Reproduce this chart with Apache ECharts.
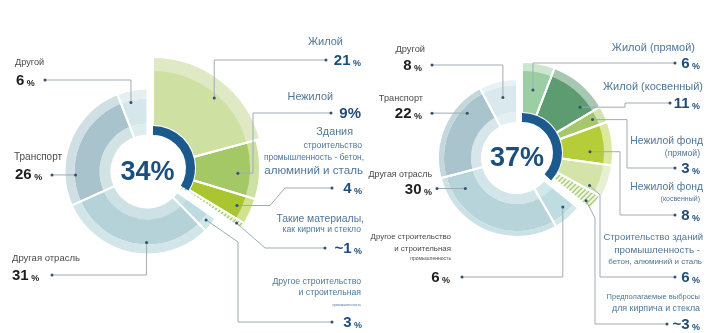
<!DOCTYPE html>
<html>
<head>
<meta charset="utf-8">
<script src="https://cdn.jsdelivr.net/npm/echarts@6/dist/echarts.min.js"></script>
<style>
html,body{margin:0;padding:0;background:#ffffff;}
#c{width:718px;height:333px;}
</style>
</head>
<body>
<div id="c"></div>
<script>
// ================= DATA =================
const leftCategories = [
  'Жилой',
  'Нежилой',
  'Здания\nстроительство\nпромышленность - бетон,\nалюминий и сталь',
  'Такие материалы,\nкак кирпич и стекло',
  'Другое строительство\nи строительная\nпромышленность',
  'Другая отрасль',
  'Транспорт',
  'Другой'
];
const leftValues = [21, 9, 4, 1, 3, 31, 26, 6];
const leftValueLabels = ['21', '9', '4', '~1', '3', '31', '26', '6'];
const leftCenterValue = 34;

const rightCategories = [
  'Жилой (прямой)',
  'Жилой (косвенный)',
  'Нежилой фонд\n(прямой)',
  'Нежилой фонд\n(косвенный)',
  'Строительство зданий\nпромышленность -\nбетон, алюминий и сталь',
  'Предполагаемые выбросы\nдля кирпича и стекла',
  'Другое строительство\nи строительная\nпромышленность',
  'Другая отрасль',
  'Транспорт',
  'Другой'
];
const rightValues = [6, 11, 3, 8, 6, 3, 6, 30, 22, 8];
const rightValueLabels = ['6', '11', '3', '8', '6', '~3', '6', '30', '22', '8'];
const rightCenterValue = 37;

// ================= STYLE / LAYOUT =================
const FONT = '"Liberation Sans", Arial, sans-serif';
const NONE = 'rgba(0,0,0,0)';
const BLUE = '#1c5a8d';
const NAME_BLUE = '#4f7699';
const NAME_DARK = '#4a4a4a';
const NUM_BLUE = '#1f4d79';
const NUM_DARK = '#1e1e1e';
const LINE = '#9fabb4';
const DOT = '#33516d';

function makeHatch() {
  const c = document.createElement('canvas');
  c.width = 5; c.height = 5;
  const g = c.getContext('2d');
  g.fillStyle = '#eff6e3'; g.fillRect(0, 0, 5, 5);
  g.strokeStyle = '#a6ca76'; g.lineWidth = 1.3;
  g.beginPath();
  g.moveTo(0, 5); g.lineTo(5, 0);
  g.moveTo(-1, 1); g.lineTo(1, -1);
  g.moveTo(4, 6); g.lineTo(6, 4);
  g.stroke();
  return c;
}
const hatchColor = { image: makeHatch(), repeat: 'repeat' };

const leftStyle = {
  kinds: ['g', 'g', 'g', 'h', 'b', 'b', 'b', 'b'],
  greenCenter: [153, 168], greyCenter: [147.5, 171.5],
  blue: [33, 42], greenMain: [42, 97], greenBand: [97, 106], extraBand: [42, 111], extraIdx: [0],
  hatchR: [35, 106],
  greyInner: [36, 48], greyMain: [48, 73], greyBand: [73, 83],
  main:  ['#cfe1a2', '#a4c865', '#a9c52f', null, '#bcdce1', '#b4d2d8', '#a8c3cb', '#d6e7eb'],
  band:  ['#dfeac4', '#cde1a5', '#d0e190', null, '#d0e7ea', '#d2e5e8', '#cfdfe3', '#e4eff2'],
  inner: [null, null, null, null, '#c8e2e6', '#cde2e5', '#d2e3e6', '#e0edf0']
};
const rightStyle = {
  kinds: ['g', 'g', 'g', 'g', 'g', 'h', 'b', 'b', 'b', 'b'],
  greenCenter: [522, 153], greyCenter: [517, 158],
  blue: [31, 40], greenMain: [40, 82], greenBand: [82, 91], extraBand: null, extraIdx: [],
  hatchR: [38, 88],
  greyInner: [35, 46], greyMain: [46, 73], greyBand: [73, 79],
  main:  ['#9ccea3', '#5c9c70', '#a6c86a', '#b5cd38', '#d4e4a9', null, '#bddde2', '#b6d4da', '#a9c4cd', '#d9e9ed'],
  band:  ['#cde6cf', '#a8c7b2', '#d3e5ae', '#dbe89e', '#e7f0d2', null, '#d1e8eb', '#cbe1e5', '#c3d7dd', '#e8f1f3'],
  inner: [null, null, null, null, null, null, '#d1e8eb', '#d2e6e9', '#d6e6ea', '#e3eff2']
};

// label layouts: anchor (t = fraction of slice angle, r = radius px), text lines [x, y, fontSize], number [x, y], leader path
const leftLabels = [
  { i: 0, t: 0.55, r: 93, align: 'right', tone: 'blue', lines: [[343, 42, 11]], num: [361, 60], path: [['v', 60], ['h', 326]] },
  { i: 1, t: 0.58, r: 85, align: 'right', tone: 'blue', bigPct: true, lines: [[333, 97, 10.8]], num: [361, 113], path: [['h', 253], ['v', 113], ['h', 331]] },
  { i: 2, t: 0.5, r: 92, align: 'right', tone: 'blue', lines: [[353, 132, 10.8], [362, 146, 8.7], [364, 158, 8.4], [363, 171, 11.6]], num: [362, 188], path: [['h', 270], ['p', 285, 188], ['h', 332]] },
  { i: 3, t: 0.6, r: 100, align: 'right', tone: 'blue', lines: [[364, 219, 10.4], [361, 230, 8.6]], num: [362, 248], path: [['p', 265, 248], ['h', 325]] },
  { i: 4, t: 0.45, r: 76, align: 'right', tone: 'blue', lines: [[361, 282, 8.7], [361, 293, 8.7], [361, 305, 3.5]], num: [362, 322], path: [['p', 238, 242], ['v', 322], ['h', 332]] },
  { i: 5, t: 0.41, r: 71, align: 'left', tone: 'dark', lines: [[12, 258, 9.5]], num: [12, 275], path: [['v', 275], ['h', 52]] },
  { i: 6, t: 0.23, r: 72, align: 'left', tone: 'dark', lines: [[14, 157, 10]], num: [15, 174], path: [['h', 52]] },
  { i: 7, t: 0.37, r: 71, align: 'left', tone: 'dark', lines: [[15, 62, 9.2]], num: [16, 80], path: [['v', 80], ['h', 45]] }
];
const rightLabels = [
  { i: 0, t: 0.47, r: 64, align: 'right', tone: 'blue', lines: [[695, 48, 11]], num: [700, 63], path: [['v', 63], ['h', 675]] },
  { i: 1, t: 0.8, r: 74, align: 'right', tone: 'blue', lines: [[703, 87, 11]], num: [700, 103], path: [['h', 625], ['v', 103], ['h', 670]] },
  { i: 2, t: 0.5, r: 78, align: 'right', tone: 'blue', lines: [[703, 141, 10.4], [700, 154, 8.6]], num: [700, 168], path: [['h', 627], ['v', 168], ['h', 675]] },
  { i: 3, t: 0.68, r: 68, align: 'right', tone: 'blue', lines: [[703, 187, 10.4], [700, 199, 7]], num: [700, 215], path: [['h', 620], ['v', 215], ['h', 675]] },
  { i: 4, t: 0.85, r: 75, align: 'right', tone: 'blue', lines: [[703, 237, 9.5], [700, 250, 9.8], [702, 262, 8]], num: [700, 277], path: [['p', 600, 195], ['v', 277], ['h', 675]] },
  { i: 5, t: 0.75, r: 80, align: 'right', tone: 'blue', lines: [[700, 297, 7.5], [700, 309, 8.9]], num: [700, 324], path: [['p', 595, 218], ['v', 324], ['h', 667]] },
  { i: 6, t: 0.36, r: 67, align: 'right', tone: 'dark', lines: [[451, 237, 7.9], [451, 249, 7.9], [451, 259, 5]], num: [450, 277], path: [['v', 277], ['h', 462]] },
  { i: 7, t: 0.85, r: 60, align: 'right', tone: 'dark', lines: [[432, 175, 8.9]], num: [432, 189], path: [['h', 437]] },
  { i: 8, t: 0.74, r: 67, align: 'right', tone: 'dark', lines: [[423, 98, 9.2]], num: [422, 113], path: [['h', 432]] },
  { i: 9, t: 0.53, r: 62, align: 'right', tone: 'dark', lines: [[425, 49, 9.3]], num: [422, 65], path: [['v', 65], ['h', 432]] }
];

// ================= BUILD =================
const chart = echarts.init(document.getElementById('c'), null, { renderer: 'canvas' });
const series = [];
const sIdx = {};
function add(key, s) { sIdx[key] = series.length; series.push(s); }

function pie(center, radius, data) {
  return {
    type: 'pie', center: center, radius: radius, startAngle: 90, clockwise: true,
    silent: true, animation: false, avoidLabelOverlap: false,
    label: { show: false }, labelLine: { show: false }, emphasis: { disabled: true },
    data: data
  };
}
function fill(values, colors) {
  return values.map((v, i) => ({ value: v, itemStyle: { color: colors[i] || NONE, borderWidth: 0 } }));
}
function sep(values, kinds, st) {
  return values.map((v, i) => ({
    value: v,
    itemStyle: { color: NONE, borderColor: kinds.includes(st.kinds[i]) ? '#ffffff' : NONE, borderWidth: kinds.includes(st.kinds[i]) ? 2 : 0 }
  }));
}

function buildChart(prefix, values, centerValue, st) {
  const only = (arr, ks) => arr.map((c, i) => ks.includes(st.kinds[i]) ? c : null);
  add(prefix + 'gi', pie(st.greyCenter, st.greyInner, fill(values, only(st.inner, ['b']))));
  add(prefix + 'gm', pie(st.greyCenter, st.greyMain, fill(values, only(st.main, ['b']))));
  add(prefix + 'gb', pie(st.greyCenter, st.greyBand, fill(values, only(st.band, ['b']))));
  add(prefix + 'gs', pie(st.greyCenter, [st.greyInner[0], st.greyBand[1]], sep(values, ['b'], st)));
  if (st.extraBand) {
    add(prefix + 'vx', pie(st.greenCenter, st.extraBand, fill(values, st.band.map((c, i) => st.extraIdx.includes(i) ? c : null))));
  }
  add(prefix + 'vb', pie(st.greenCenter, [st.greenMain[0], st.greenBand[1]],
    fill(values, st.band.map((c, i) => (st.kinds[i] === 'g' && !st.extraIdx.includes(i)) ? c : null))));
  add(prefix + 'vm', pie(st.greenCenter, st.greenMain, fill(values, only(st.main, ['g']))));
  add(prefix + 'h', pie(st.greenCenter, st.hatchR, fill(values, st.kinds.map(k => k === 'h' ? hatchColor : null))));
  add(prefix + 'vs', pie(st.greenCenter, [st.greenMain[0], (st.extraBand || st.greenBand)[1]], sep(values, ['g', 'h'], st)));
  add(prefix + 'blue', pie(st.greenCenter, st.blue, [
    { value: centerValue, itemStyle: { color: BLUE, borderWidth: 0 } },
    { value: 100 - centerValue, itemStyle: { color: NONE, borderWidth: 0 } }
  ]));
}

buildChart('L', leftValues, leftCenterValue, leftStyle);
buildChart('R', rightValues, rightCenterValue, rightStyle);

chart.setOption({ animation: false, series: series });

// ---------- annotations from the library's pie layout ----------
const model = chart.getModel();
function itemLayout(key, i, values, st, center) {
  try {
    const l = model.getSeriesByIndex(sIdx[key]).getData().getItemLayout(i);
    if (l && isFinite(l.startAngle) && isFinite(l.endAngle)) return l;
  } catch (e) {}
  const sum = values.reduce((a, b) => a + b, 0);
  let acc = 0;
  for (let k = 0; k < i; k++) acc += values[k];
  const s = -Math.PI / 2 + acc / sum * Math.PI * 2;
  return { cx: center[0], cy: center[1], startAngle: s, endAngle: s + values[i] / sum * Math.PI * 2 };
}

const elements = [];
function addLabels(prefix, cats, values, valLabels, st, labels) {
  labels.forEach(lb => {
    const kind = st.kinds[lb.i];
    const key = prefix + (kind === 'b' ? 'gm' : (kind === 'h' ? 'h' : 'vm'));
    const ctr = kind === 'b' ? st.greyCenter : st.greenCenter;
    const L = itemLayout(key, lb.i, values, st, ctr);
    const a = L.startAngle + lb.t * (L.endAngle - L.startAngle);
    const anchor = [L.cx + lb.r * Math.cos(a), L.cy + lb.r * Math.sin(a)];
    const pts = [anchor.slice()];
    let x = anchor[0], y = anchor[1];
    lb.path.forEach(s => {
      if (s[0] === 'h') x = s[1];
      else if (s[0] === 'v') y = s[1];
      else { x = s[1]; y = s[2]; }
      pts.push([x, y]);
    });
    elements.push({ type: 'polyline', silent: true, z: 10, shape: { points: pts }, style: { stroke: LINE, lineWidth: 1, fill: null } });
    elements.push({ type: 'circle', silent: true, z: 11, shape: { cx: anchor[0], cy: anchor[1], r: 1.5 }, style: { fill: DOT } });
    elements.push({ type: 'circle', silent: true, z: 11, shape: { cx: x, cy: y, r: 1.5 }, style: { fill: DOT } });

    const nameColor = lb.tone === 'blue' ? NAME_BLUE : NAME_DARK;
    const numColor = lb.tone === 'blue' ? NUM_BLUE : NUM_DARK;
    const parts = cats[lb.i].split('\n');
    parts.forEach((txt, k) => {
      const ln = lb.lines[k] || lb.lines[lb.lines.length - 1];
      elements.push({
        type: 'text', silent: true, z: 12, x: ln[0], y: ln[1],
        style: { text: txt, fontSize: ln[2], fontFamily: FONT, fill: nameColor, align: lb.align, verticalAlign: 'middle' }
      });
    });
    elements.push({
      type: 'text', silent: true, z: 12, x: lb.num[0], y: lb.num[1],
      style: {
        text: '{n|' + valLabels[lb.i] + '}{p|' + (lb.bigPct ? '%' : ' %') + '}',
        align: lb.align, verticalAlign: 'middle',
        rich: {
          n: { fontSize: 15, fontWeight: 'bold', fontFamily: FONT, fill: numColor, color: numColor, verticalAlign: 'bottom', lineHeight: 16 },
          p: { fontSize: lb.bigPct ? 15 : 9, fontWeight: 'bold', fontFamily: FONT, fill: numColor, color: numColor, verticalAlign: 'bottom', lineHeight: lb.bigPct ? 16 : 13 }
        }
      }
    });
  });
  // center value
  const G = itemLayout(prefix + 'gm', 0, values, st, st.greyCenter);
  elements.push({
    type: 'text', silent: true, z: 12, x: G.cx, y: G.cy + 1,
    style: { text: (prefix === 'L' ? leftCenterValue : rightCenterValue) + '%', fontSize: 27, fontWeight: 'bold', fontFamily: FONT, fill: '#1d4f7e', align: 'center', verticalAlign: 'middle' }
  });
}
addLabels('L', leftCategories, leftValues, leftValueLabels, leftStyle, leftLabels);
addLabels('R', rightCategories, rightValues, rightValueLabels, rightStyle, rightLabels);

chart.setOption({ graphic: { elements: elements } });
</script>
</body>
</html>
